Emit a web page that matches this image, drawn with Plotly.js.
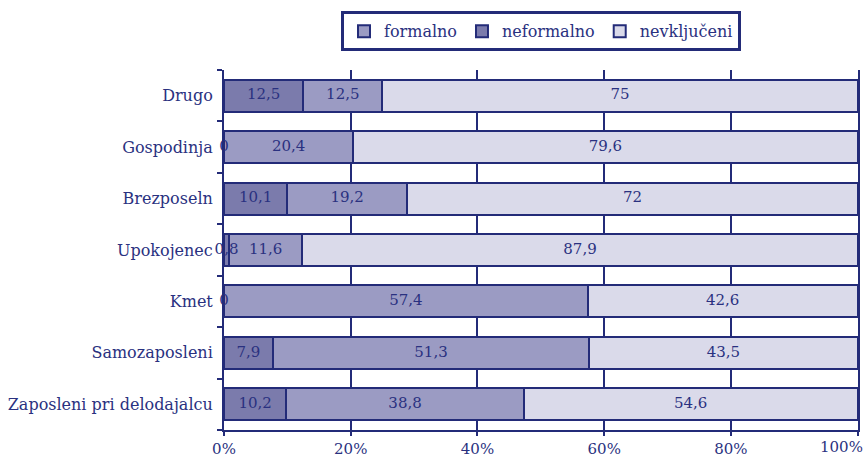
<!DOCTYPE html>
<html>
<head>
<meta charset="utf-8">
<script src="https://cdn.plot.ly/plotly-3.0.1.min.js"></script>
<style>html,body{margin:0;padding:0;background:#fff;}#chart{width:866px;height:460px;}</style>
</head>
<body>
<div id="chart"></div>
<script>
// categories, bottom to top
const categories = ['Zaposleni pri delodajalcu','Samozaposleni','Kmet','Upokojenec','Brezposeln','Gospodinja','Drugo'];
// first (darkest, leftmost) segment
const neformalno = [10.2, 7.9, 0, 0.8, 10.1, 0, 12.5];
// middle segment
const formalno = [38.8, 51.3, 57.4, 11.6, 19.2, 20.4, 12.5];
// last (lightest) segment
const nevkljuceni = [54.6, 43.5, 42.6, 87.9, 72, 79.6, 75];
const xTicks = [0, 20, 40, 60, 80, 100];
const xTickLabels = ['0%', '20%', '40%', '60%', '80%', '100%'];

const navy = '#232b78';
const textNavy = '#2a3180';
const fontFam = '"DejaVu Serif", serif';

const series = [
  {name: 'neformalno', vals: neformalno, color: '#7b7bac', rank: 2},
  {name: 'formalno', vals: formalno, color: '#9b9bc3', rank: 1},
  {name: 'nevključeni', vals: nevkljuceni, color: '#dadaea', rank: 3}
];

const traces = series.map(s => ({
  type: 'bar', orientation: 'h', name: s.name, x: s.vals, y: categories,
  marker: {color: s.color, line: {color: navy, width: 2}},
  legendrank: s.rank, textposition: 'none', hoverinfo: 'x+y'
}));

// label positions at normalized segment centres
const totals = categories.map((c, i) => series.reduce((a, s) => a + s.vals[i], 0));
series.forEach((s, k) => {
  const xs = [], txt = [];
  categories.forEach((c, i) => {
    let cum = 0;
    for (let j = 0; j < k; j++) cum += series[j].vals[i];
    xs.push((cum + s.vals[i] / 2) / totals[i] * 100);
    txt.push(String(s.vals[i]).replace('.', ','));
  });
  traces.push({
    type: 'scatter', mode: 'text', x: xs, y: categories, text: txt,
    textposition: 'middle center', showlegend: false, hoverinfo: 'skip',
    textfont: {family: fontFam, size: 15, color: textNavy}, cliponaxis: false
  });
});

const last = xTicks.length - 1;
const layout = {
  width: 866, height: 460,
  margin: {l: 224, r: 8, t: 70, b: 30},
  barmode: 'stack', barnorm: 'percent', bargap: 0.38,
  paper_bgcolor: '#fff', plot_bgcolor: '#fff',
  font: {family: fontFam, size: 15, color: textNavy},
  showlegend: true,
  legend: {
    orientation: 'h', x: 0.5, xanchor: 'center', y: 1.163, yanchor: 'top',
    bordercolor: navy, borderwidth: 3, bgcolor: '#fff',
    font: {family: fontFam, size: 16, color: textNavy},
    traceorder: 'normal', itemwidth: 30
  },
  xaxis: {
    range: [0, 100.05], tickvals: xTicks,
    ticktext: xTickLabels.map((t, i) => i === last ? '' : t),
    showgrid: true, gridcolor: navy, gridwidth: 2,
    showline: true, linecolor: navy, linewidth: 2,
    ticks: 'outside', ticklen: 4, tickcolor: navy, tickwidth: 2,
    zeroline: false, fixedrange: true,
    tickfont: {family: fontFam, size: 15, color: textNavy}
  },
  yaxis: {
    type: 'category', categoryorder: 'array', categoryarray: categories,
    showline: true, linecolor: navy, linewidth: 2, mirror: true,
    ticks: 'outside', tickson: 'boundaries', ticklen: 5, tickcolor: navy, tickwidth: 2,
    ticklabelstandoff: 6,
    showgrid: false, zeroline: false, fixedrange: true,
    tickfont: {family: fontFam, size: 16, color: textNavy}
  },
  annotations: [{
    x: xTicks[last], xref: 'x', y: 0, yref: 'paper', yanchor: 'top', yshift: -6,
    xanchor: 'right', xshift: 7, text: xTickLabels[last], showarrow: false,
    font: {family: fontFam, size: 15, color: textNavy}
  }]
};

Plotly.newPlot('chart', traces, layout, {displayModeBar: false, staticPlot: true});
</script>
</body>
</html>
